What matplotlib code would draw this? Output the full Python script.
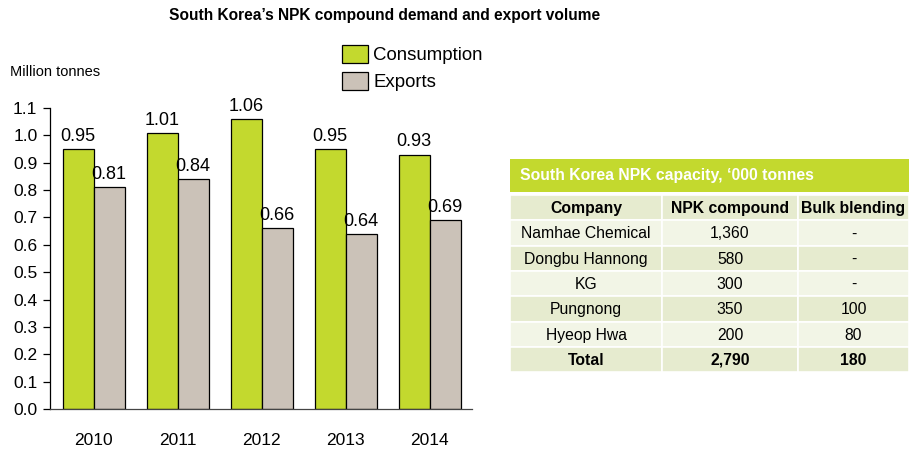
import matplotlib.pyplot as plt
import numpy as np
from matplotlib.patches import Rectangle

plt.rcParams['font.family'] = ['Liberation Sans', 'DejaVu Sans']

# data
years = ['2010', '2011', '2012', '2013', '2014']
consumption = [0.95, 1.01, 1.06, 0.95, 0.93]
exports = [0.81, 0.84, 0.66, 0.64, 0.69]

table_title = 'South Korea NPK capacity, \u2018000 tonnes'
table_cols = ['Company', 'NPK compound', 'Bulk blending']
companies = ['Namhae Chemical', 'Dongbu Hannong', 'KG', 'Pungnong', 'Hyeop Hwa']
npk_compound = ['1,360', '580', '300', '350', '200']
bulk_blending = ['-', '-', '-', '100', '80']
total_row = ['Total', '2,790', '180']

green = '#c3d92e'
grey = '#cbc2b8'

fig = plt.figure(figsize=(9.09, 4.5), dpi=100)
fig.text(0.4235, 0.966, 'South Korea\u2019s NPK compound demand and export volume',
         ha='center', va='center', fontsize=11.2, fontweight='bold')
fig.text(0.011, 0.84, 'Million tonnes', ha='left', va='center', fontsize=10.5)

# bar chart
ax = fig.add_axes([0.055, 0.091, 0.464, 0.669])
x = np.arange(len(years))
w = 0.37
b1 = ax.bar(x - w / 2, consumption, w, color=green, edgecolor='black', linewidth=0.9,
            label='Consumption')
b2 = ax.bar(x + w / 2, exports, w, color=grey, edgecolor='black', linewidth=0.9,
            label='Exports')
for bars, vals in ((b1, consumption), (b2, exports)):
    for r, v in zip(bars, vals):
        ax.text(r.get_x() + r.get_width() / 2, v + 0.015, f'{v:.2f}',
                ha='center', va='bottom', fontsize=13)

ax.set_xlim(-0.52, 4.5)
ax.set_ylim(0, 1.1)
ax.set_yticks(np.arange(0, 1.11, 0.1))
ax.set_yticklabels([f'{t:.1f}' for t in np.arange(0, 1.11, 0.1)], fontsize=12.5)
ax.set_xticks(x)
ax.set_xticklabels(years, fontsize=12.5)
ax.tick_params(axis='x', length=0, pad=17)
ax.tick_params(axis='y', length=5, width=0.9, direction='out', pad=4)
for s in ('top', 'right'):
    ax.spines[s].set_visible(False)
ax.spines['left'].set_linewidth(0.9)
ax.spines['bottom'].set_linewidth(0.9)
ax.spines['bottom'].set_color('#444444')

fig.legend(handles=[b1, b2], loc='upper left', bbox_to_anchor=(0.376, 0.9),
           frameon=False, fontsize=13.4, handlelength=1.4, handleheight=1.1,
           handletextpad=0.3, labelspacing=0.42, borderpad=0, borderaxespad=0)

# table
tx = fig.add_axes([510 / 909, 1 - 372 / 450, 399 / 909, 213 / 450])
tx.set_xlim(510, 909)
tx.set_ylim(372, 159)
tx.axis('off')

col_edges = [510, 662, 798, 909]
col_centers = [(col_edges[i] + col_edges[i + 1]) / 2 for i in range(3)]
tx.add_patch(Rectangle((510, 159), 399, 33, color='#c3d92e', lw=0))
tx.text(520, 175.5, table_title, color='white', fontsize=11.3, fontweight='bold',
        ha='left', va='center')

rows = [table_cols] + [[c, n, b] for c, n, b in zip(companies, npk_compound, bulk_blending)] + [total_row]
row_top = 195
row_h = 25.3
for i, row in enumerate(rows):
    y0 = row_top + i * row_h
    fc = '#e6ebcf' if i % 2 == 0 else '#f2f5e6'
    for j in range(3):
        tx.add_patch(Rectangle((col_edges[j], y0), col_edges[j + 1] - col_edges[j], row_h,
                               facecolor=fc, edgecolor='white', lw=1.2))
        bold = i == 0 or i == len(rows) - 1
        tx.text(col_centers[j], y0 + row_h / 2 + 1, row[j], ha='center', va='center',
                fontsize=11.3, fontweight='bold' if bold else 'normal')

fig.savefig('out.png', dpi=100)
